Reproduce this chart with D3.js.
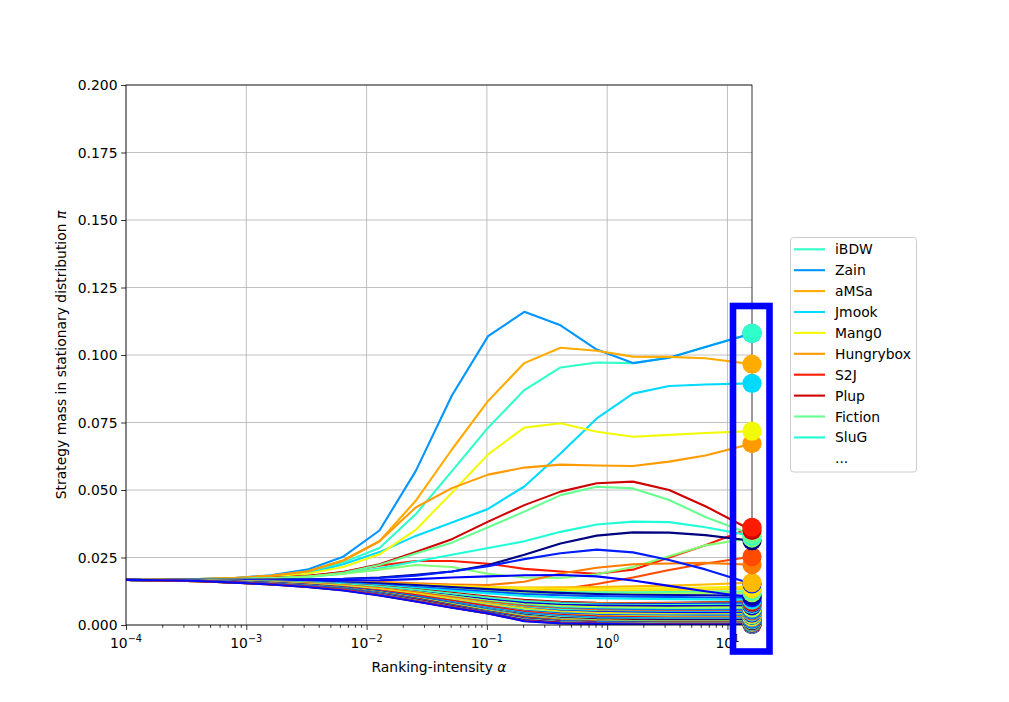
<!DOCTYPE html>
<html><head><meta charset="utf-8">
<script src="https://cdn.jsdelivr.net/npm/d3@7"></script>
<style>body{margin:0;background:#fff;} text{font-family:"DejaVu Sans",sans-serif;fill:#000;}</style>
</head><body><svg id="c" width="1009" height="702"></svg>
<script>
// ---------------- DATA ----------------
const alphas = [1e-4,2e-4,4e-4,8e-4,1.6e-3,3.2e-3,6.4e-3,1.28e-2,2.56e-2,5.12e-2,0.1024,0.2048,0.4096,0.8192,1.6384,3.2768,6.5536,16];
const legendNames = ["iBDW","Zain","aMSa","Jmook","Mang0","Hungrybox","S2J","Plup","Fiction","SluG"];
const yTickValues = [0,0.025,0.05,0.075,0.1,0.125,0.15,0.175,0.2];
const xTickValues = [1e-4,1e-3,1e-2,1e-1,1,10];
const xTickExponents = ["\u22124","\u22123","\u22122","\u22121","0","1"];
const xLabel = "Ranking-intensity ";
const yLabel = "Strategy mass in stationary distribution ";

// named strategies (legend order)
const iBDW      = [.0167,.0168,.0170,.0173,.0180,.0195,.0232,.0285,.0410,.0570,.0731,.0870,.0954,.0972,.0970,.0990,.1030,.1080];
const Zain      = [.0167,.0168,.0170,.0174,.0184,.0205,.0253,.0350,.0570,.0850,.1070,.1160,.1110,.1020,.0970,.0990,.1030,.1080];
const aMSa      = [.0167,.0168,.0170,.0174,.0182,.0198,.0240,.0310,.0460,.0650,.0830,.0970,.1027,.1016,.0994,.0993,.0988,.0966];
const Jmook     = [.0167,.0168,.0169,.0172,.0178,.0190,.0225,.0270,.0330,.0380,.0430,.0513,.0635,.0765,.0857,.0885,.0891,.0895];
const Mang0     = [.0167,.0168,.0169,.0172,.0178,.0190,.0215,.0262,.0352,.0490,.0632,.0731,.0747,.0716,.0697,.0704,.0711,.0718];
const Hungrybox = [.0167,.0168,.0170,.0174,.0182,.0198,.0238,.0310,.0435,.0507,.0557,.0583,.0594,.0591,.0589,.0605,.0628,.0672];
const S2J       = [.0167,.0167,.0168,.0170,.0174,.0181,.0196,.0220,.0237,.0237,.0227,.0208,.0198,.0190,.0205,.0250,.0295,.0362];
const Plup      = [.0167,.0167,.0168,.0170,.0174,.0181,.0196,.0225,.0270,.0318,.0383,.0444,.0494,.0525,.0531,.0500,.0440,.0350];
const Fiction   = [.0167,.0167,.0168,.0170,.0173,.0179,.0193,.0222,.0265,.0305,.0362,.0420,.0481,.0512,.0506,.0463,.0400,.0335];
const SluG      = [.0167,.0167,.0168,.0170,.0173,.0178,.0190,.0210,.0235,.0260,.0285,.0310,.0345,.0372,.0383,.0381,.0362,.0330];
// other strategies
const others = [
 [.0167,.0167,.0168,.0170,.0173,.0179,.0190,.0205,.0222,.0215,.0190,.0176,.0174,.0188,.0215,.0255,.0295,.0322],
 [.0167,.0167,.0167,.0167,.0168,.0169,.0171,.0176,.0186,.0198,.0222,.0260,.0302,.0331,.0343,.0342,.0333,.0312],
 [.0167,.0166,.0165,.0163,.0160,.0156,.0150,.0142,.0135,.0130,.0127,.0125,.0132,.0152,.0176,.0204,.0228,.0253],
 [.0167,.0167,.0167,.0167,.0167,.0166,.0164,.0160,.0154,.0150,.0148,.0160,.0191,.0212,.0225,.0228,.0230,.0223],
 [.0167,.0167,.0166,.0165,.0163,.0160,.0155,.0150,.0146,.0142,.0140,.0139,.0140,.0141,.0143,.0146,.0150,.0157],
 [.0167,.0167,.0167,.0167,.0167,.0168,.0170,.0174,.0183,.0198,.0218,.0244,.0266,.0279,.0269,.0241,.0206,.0152],
 [.0167,.0167,.0166,.0165,.0164,.0162,.0159,.0155,.0150,.0145,.0140,.0136,.0134,.0134,.0135,.0137,.0139,.0142],
 [.0167,.0167,.0166,.0165,.0163,.0161,.0157,.0152,.0146,.0140,.0134,.0129,.0127,.0127,.0128,.0129,.0131,.0134],
 [.0167,.0167,.0166,.0165,.0163,.0160,.0156,.0150,.0143,.0136,.0130,.0125,.0122,.0121,.0121,.0122,.0123,.0125],
 [.0167,.0167,.0166,.0164,.0162,.0159,.0154,.0148,.0140,.0132,.0125,.0119,.0116,.0115,.0115,.0116,.0118,.0120],
 [.0167,.0167,.0166,.0165,.0163,.0161,.0158,.0154,.0148,.0141,.0133,.0125,.0119,.0115,.0112,.0111,.0110,.0108],
 [.0167,.0167,.0166,.0166,.0165,.0165,.0165,.0166,.0170,.0176,.0180,.0184,.0185,.0180,.0165,.0145,.0125,.0102],
 [.0167,.0167,.0166,.0164,.0162,.0159,.0155,.0149,.0141,.0132,.0123,.0115,.0110,.0107,.0105,.0104,.0102,.0100],
 [.0167,.0167,.0166,.0164,.0161,.0158,.0153,.0146,.0137,.0127,.0117,.0108,.0102,.0099,.0097,.0096,.0095,.0093],
 [.0167,.0167,.0166,.0164,.0161,.0157,.0151,.0143,.0130,.0113,.0094,.0075,.0062,.0058,.0060,.0066,.0076,.0090],
 [.0167,.0167,.0166,.0164,.0161,.0157,.0151,.0143,.0132,.0119,.0105,.0093,.0086,.0082,.0081,.0082,.0084,.0086],
 [.0167,.0167,.0165,.0163,.0160,.0156,.0150,.0141,.0129,.0116,.0102,.0090,.0083,.0080,.0079,.0080,.0082,.0084],
 [.0167,.0167,.0165,.0163,.0160,.0156,.0149,.0140,.0128,.0114,.0100,.0088,.0081,.0078,.0077,.0078,.0079,.0080],
 [.0167,.0167,.0166,.0164,.0161,.0157,.0151,.0142,.0130,.0116,.0101,.0088,.0080,.0076,.0074,.0074,.0075,.0076],
 [.0167,.0167,.0165,.0163,.0159,.0154,.0147,.0137,.0124,.0109,.0094,.0082,.0075,.0072,.0071,.0070,.0070,.0071],
 [.0167,.0166,.0165,.0162,.0158,.0153,.0146,.0136,.0122,.0106,.0090,.0077,.0070,.0066,.0065,.0064,.0065,.0066],
 [.0167,.0167,.0165,.0163,.0159,.0154,.0147,.0137,.0123,.0106,.0089,.0075,.0067,.0063,.0061,.0061,.0061,.0062],
 [.0167,.0166,.0165,.0162,.0158,.0153,.0145,.0134,.0119,.0102,.0085,.0071,.0062,.0058,.0056,.0055,.0055,.0056],
 [.0167,.0167,.0165,.0163,.0159,.0154,.0147,.0136,.0121,.0103,.0085,.0069,.0059,.0054,.0052,.0051,.0051,.0051],
 [.0167,.0166,.0165,.0162,.0158,.0152,.0144,.0132,.0116,.0098,.0080,.0065,.0056,.0051,.0049,.0048,.0048,.0048],
 [.0167,.0166,.0164,.0161,.0157,.0151,.0142,.0130,.0114,.0096,.0078,.0062,.0052,.0048,.0046,.0045,.0045,.0045],
 [.0167,.0167,.0165,.0162,.0158,.0153,.0145,.0133,.0117,.0098,.0079,.0062,.0050,.0045,.0042,.0041,.0040,.0041],
 [.0167,.0166,.0164,.0161,.0157,.0151,.0142,.0129,.0112,.0092,.0073,.0057,.0046,.0041,.0039,.0038,.0038,.0038],
 [.0167,.0166,.0164,.0161,.0156,.0149,.0140,.0127,.0110,.0090,.0070,.0053,.0043,.0038,.0036,.0035,.0035,.0035],
 [.0167,.0166,.0163,.0159,.0153,.0146,.0136,.0123,.0106,.0086,.0067,.0050,.0039,.0034,.0032,.0031,.0030,.0030],
 [.0167,.0166,.0164,.0161,.0156,.0150,.0141,.0128,.0111,.0090,.0069,.0050,.0038,.0032,.0029,.0028,.0028,.0028],
 [.0167,.0166,.0164,.0160,.0155,.0148,.0138,.0124,.0106,.0085,.0064,.0045,.0034,.0028,.0026,.0025,.0025,.0025],
 [.0167,.0166,.0164,.0160,.0155,.0148,.0138,.0124,.0105,.0083,.0061,.0042,.0031,.0025,.0023,.0022,.0022,.0022],
 [.0167,.0166,.0163,.0159,.0154,.0147,.0137,.0122,.0103,.0081,.0059,.0040,.0029,.0023,.0021,.0020,.0020,.0020],
 [.0167,.0166,.0164,.0160,.0155,.0148,.0138,.0123,.0103,.0080,.0057,.0038,.0026,.0021,.0019,.0018,.0018,.0018],
 [.0167,.0165,.0162,.0157,.0151,.0143,.0133,.0119,.0100,.0078,.0056,.0036,.0025,.0019,.0017,.0016,.0016,.0016],
 [.0167,.0165,.0162,.0157,.0150,.0142,.0132,.0118,.0099,.0077,.0055,.0035,.0023,.0017,.0015,.0014,.0014,.0014],
 [.0167,.0166,.0163,.0159,.0154,.0147,.0137,.0122,.0102,.0079,.0056,.0034,.0021,.0015,.0013,.0012,.0012,.0012],
 [.0167,.0166,.0163,.0159,.0153,.0146,.0136,.0121,.0101,.0078,.0054,.0032,.0019,.0014,.0012,.0011,.0011,.0011],
 [.0167,.0166,.0163,.0159,.0154,.0147,.0136,.0120,.0099,.0075,.0051,.0030,.0018,.0013,.0011,.0010,.0010,.0010],
 [.0167,.0165,.0162,.0158,.0152,.0145,.0135,.0119,.0098,.0074,.0050,.0028,.0016,.0012,.0010,.0009,.0009,.0009],
 [.0167,.0166,.0163,.0159,.0153,.0146,.0135,.0118,.0096,.0072,.0048,.0026,.0015,.0011,.0009,.0008,.0008,.0008],
 [.0167,.0166,.0163,.0158,.0152,.0144,.0133,.0116,.0094,.0070,.0046,.0024,.0013,.0009,.0008,.0007,.0007,.0007],
 [.0167,.0165,.0162,.0157,.0151,.0143,.0132,.0115,.0093,.0069,.0045,.0023,.0012,.0008,.0007,.0006,.0006,.0006],
 [.0167,.0166,.0163,.0158,.0152,.0144,.0132,.0114,.0091,.0067,.0044,.0021,.0011,.0007,.0006,.0005,.0005,.0005],
 [.0167,.0165,.0162,.0157,.0151,.0142,.0130,.0112,.0090,.0066,.0044,.0020,.0010,.0006,.0005,.0004,.0004,.0004],
 [.0167,.0166,.0163,.0158,.0152,.0143,.0131,.0112,.0089,.0066,.0044,.0018,.0009,.0005,.0004,.0003,.0003,.0003],
 [.0167,.0165,.0162,.0157,.0150,.0141,.0129,.0110,.0088,.0065,.0043,.0016,.0008,.0005,.0004,.0003,.0003,.0003],
 [.0167,.0166,.0163,.0158,.0151,.0142,.0130,.0111,.0088,.0065,.0043,.0015,.0007,.0004,.0003,.0002,.0002,.0002],
 [.0167,.0166,.0163,.0157,.0150,.0141,.0128,.0109,.0087,.0064,.0043,.0014,.0006,.0004,.0003,.0002,.0002,.0002]
];

// ---------------- STYLE ----------------
// colormap positions (jet) per series, same order as series list below
const namedColorT = [0.407,0.271,0.729,0.339,0.644,0.746,0.881,0.932,0.475,0.390];
const otherColorT = [0.508,0.000,0.831,0.780,0.712,0.153,
  0.661,0.678,0.441,0.542,0.034,0.119,0.203,0.356,0.864,0.966,0.763,0.169,0.424,0.068,0.627,0.492,0.237,0.814,0.373,
  0.102,0.695,0.525,0.220,0.610,0.898,0.322,0.186,0.458,0.017,0.983,0.593,0.254,0.559,0.797,1.000,0.305,0.051,0.915,
  0.288,0.576,0.085,0.949,0.847,0.136];

function jet(t){
  const c=v=>Math.max(0,Math.min(1,v));
  let r = t<0.35?0 : t<0.66?(t-0.35)/0.31 : t<0.89?1 : 1-(t-0.89)/0.11*0.5;
  let g = t<0.125?0 : t<0.375?(t-0.125)/0.25 : t<0.64?1 : t<0.91?1-(t-0.64)/0.27 : 0;
  let b = t<0.11?0.5+t/0.11*0.5 : t<0.34?1 : t<0.65?1-(t-0.34)/0.31 : 0;
  return d3.rgb(c(r)*255,c(g)*255,c(b)*255).formatHex();
}

const namedSeries = [iBDW,Zain,aMSa,Jmook,Mang0,Hungrybox,S2J,Plup,Fiction,SluG];
const series = namedSeries.map((v,i)=>({values:v,t:namedColorT[i],name:legendNames[i],rank:i}))
  .concat(others.map((v,i)=>({values:v,t:otherColorT[i],name:null,rank:10+i})));

// ---------------- LAYOUT ----------------
const svg = d3.select("#c");
const L=126, R=752, T=85, B=625;
const x = d3.scaleLog().domain([1e-4,16]).range([L,R]);
const y = d3.scaleLinear().domain([0,0.2]).range([B,T]);
const fs = 13.9;

// grid
const grid = svg.append("g");
grid.selectAll("line.gx").data(xTickValues).enter().append("line")
  .attr("x1",d=>x(d)).attr("x2",d=>x(d)).attr("y1",T).attr("y2",B)
  .attr("stroke","#b0b0b0").attr("stroke-width",0.8);
grid.selectAll("line.gy").data(yTickValues).enter().append("line")
  .attr("x1",L).attr("x2",R).attr("y1",d=>y(d)).attr("y2",d=>y(d))
  .attr("stroke","#b0b0b0").attr("stroke-width",0.8);

// lines
const line = d3.line().x((d,i)=>x(alphas[i])).y(d=>y(d));
svg.append("defs").append("clipPath").attr("id","clip").append("rect")
  .attr("x",L).attr("y",T).attr("width",R-L).attr("height",B-T);
svg.append("g").attr("clip-path","url(#clip)")
  .selectAll("path").data(series).enter().append("path")
  .attr("d",d=>line(d.values)).attr("fill","none")
  .attr("stroke",d=>jet(d.t)).attr("stroke-width",2.1)
  .attr("stroke-linejoin","round").attr("stroke-linecap","square");

// axes
const xAxis = d3.axisBottom(x).tickValues(xTickValues).tickSize(4.9).tickFormat("");
const minor=[]; for(let e=-4;e<=0;e++) for(let m=2;m<=9;m++) minor.push(m*Math.pow(10,e));
const gx = svg.append("g").attr("transform",`translate(0,${B})`).call(xAxis);
svg.append("g").attr("transform",`translate(0,${B})`)
  .call(d3.axisBottom(x).tickValues(minor).tickSize(2.8).tickFormat(""))
  .call(g=>g.select(".domain").remove());
const gy = svg.append("g").attr("transform",`translate(${L},0)`)
  .call(d3.axisLeft(y).tickValues(yTickValues).tickSize(4.9).tickFormat(d3.format(".3f")));
[gx,gy].forEach(g=>{g.selectAll("line").attr("stroke","#000").attr("stroke-width",0.8);
  g.select(".domain").remove();});
svg.selectAll(".tick line").attr("stroke-width",0.8);
gy.selectAll("text").attr("font-size",fs).attr("font-family","DejaVu Sans").attr("x",-8.5).attr("dy","0.35em");

// x tick labels with superscripts
const xl = svg.append("g");
xTickValues.forEach((v,i)=>{
  const t = xl.append("text").attr("x",x(v)).attr("y",B+23).attr("text-anchor","middle").attr("font-size",fs);
  t.append("tspan").text("10");
  t.append("tspan").attr("font-size",fs*0.7).attr("dy",-6).text(xTickExponents[i]);
});

// spines
svg.append("rect").attr("x",L).attr("y",T).attr("width",R-L).attr("height",B-T)
  .attr("fill","none").attr("stroke","#000").attr("stroke-width",0.8);

// axis labels
const xt = svg.append("text").attr("x",(L+R)/2).attr("y",672).attr("text-anchor","middle").attr("font-size",fs);
xt.append("tspan").text(xLabel); xt.append("tspan").attr("font-style","italic").text("\u03b1");
const yt = svg.append("text").attr("transform",`translate(66,${(T+B)/2}) rotate(-90)`)
  .attr("text-anchor","middle").attr("font-size",fs);
yt.append("tspan").text(yLabel); yt.append("tspan").attr("font-style","italic").text("\u03c0");

// end markers: drawn from smallest final mass to largest
const lastIdx = alphas.length-1;
const markerData = series.slice().sort((a,b)=>(a.values[lastIdx]-b.values[lastIdx]) || (b.rank-a.rank));
svg.append("g").selectAll("circle").data(markerData).enter().append("circle")
  .attr("cx",x(alphas[lastIdx])).attr("cy",d=>y(d.values[lastIdx])).attr("r",9.6)
  .attr("fill",d=>jet(d.t));

// highlight box
svg.append("rect").attr("x",733).attr("y",306).attr("width",36.5).attr("height",345.5)
  .attr("fill","none").attr("stroke","#0000ff").attr("stroke-width",6.6);

// legend
const lg = svg.append("g");
lg.append("rect").attr("x",790.5).attr("y",237.5).attr("width",126).attr("height",234.5)
  .attr("rx",3).attr("fill","#fff").attr("fill-opacity",0.8).attr("stroke","#cccccc").attr("stroke-width",1);
const legendItems = series.filter(s=>s.name);
legendItems.forEach((s,i)=>{
  const yy = 249.3 + i*20.9;
  lg.append("line").attr("x1",794).attr("x2",825).attr("y1",yy).attr("y2",yy)
    .attr("stroke",jet(s.t)).attr("stroke-width",2.1);
  lg.append("text").attr("x",835).attr("y",yy+5).attr("font-size",fs).text(s.name);
});
lg.append("text").attr("x",835).attr("y",249.3+10*20.9+5).attr("font-size",fs).text("...");
</script></body></html>
